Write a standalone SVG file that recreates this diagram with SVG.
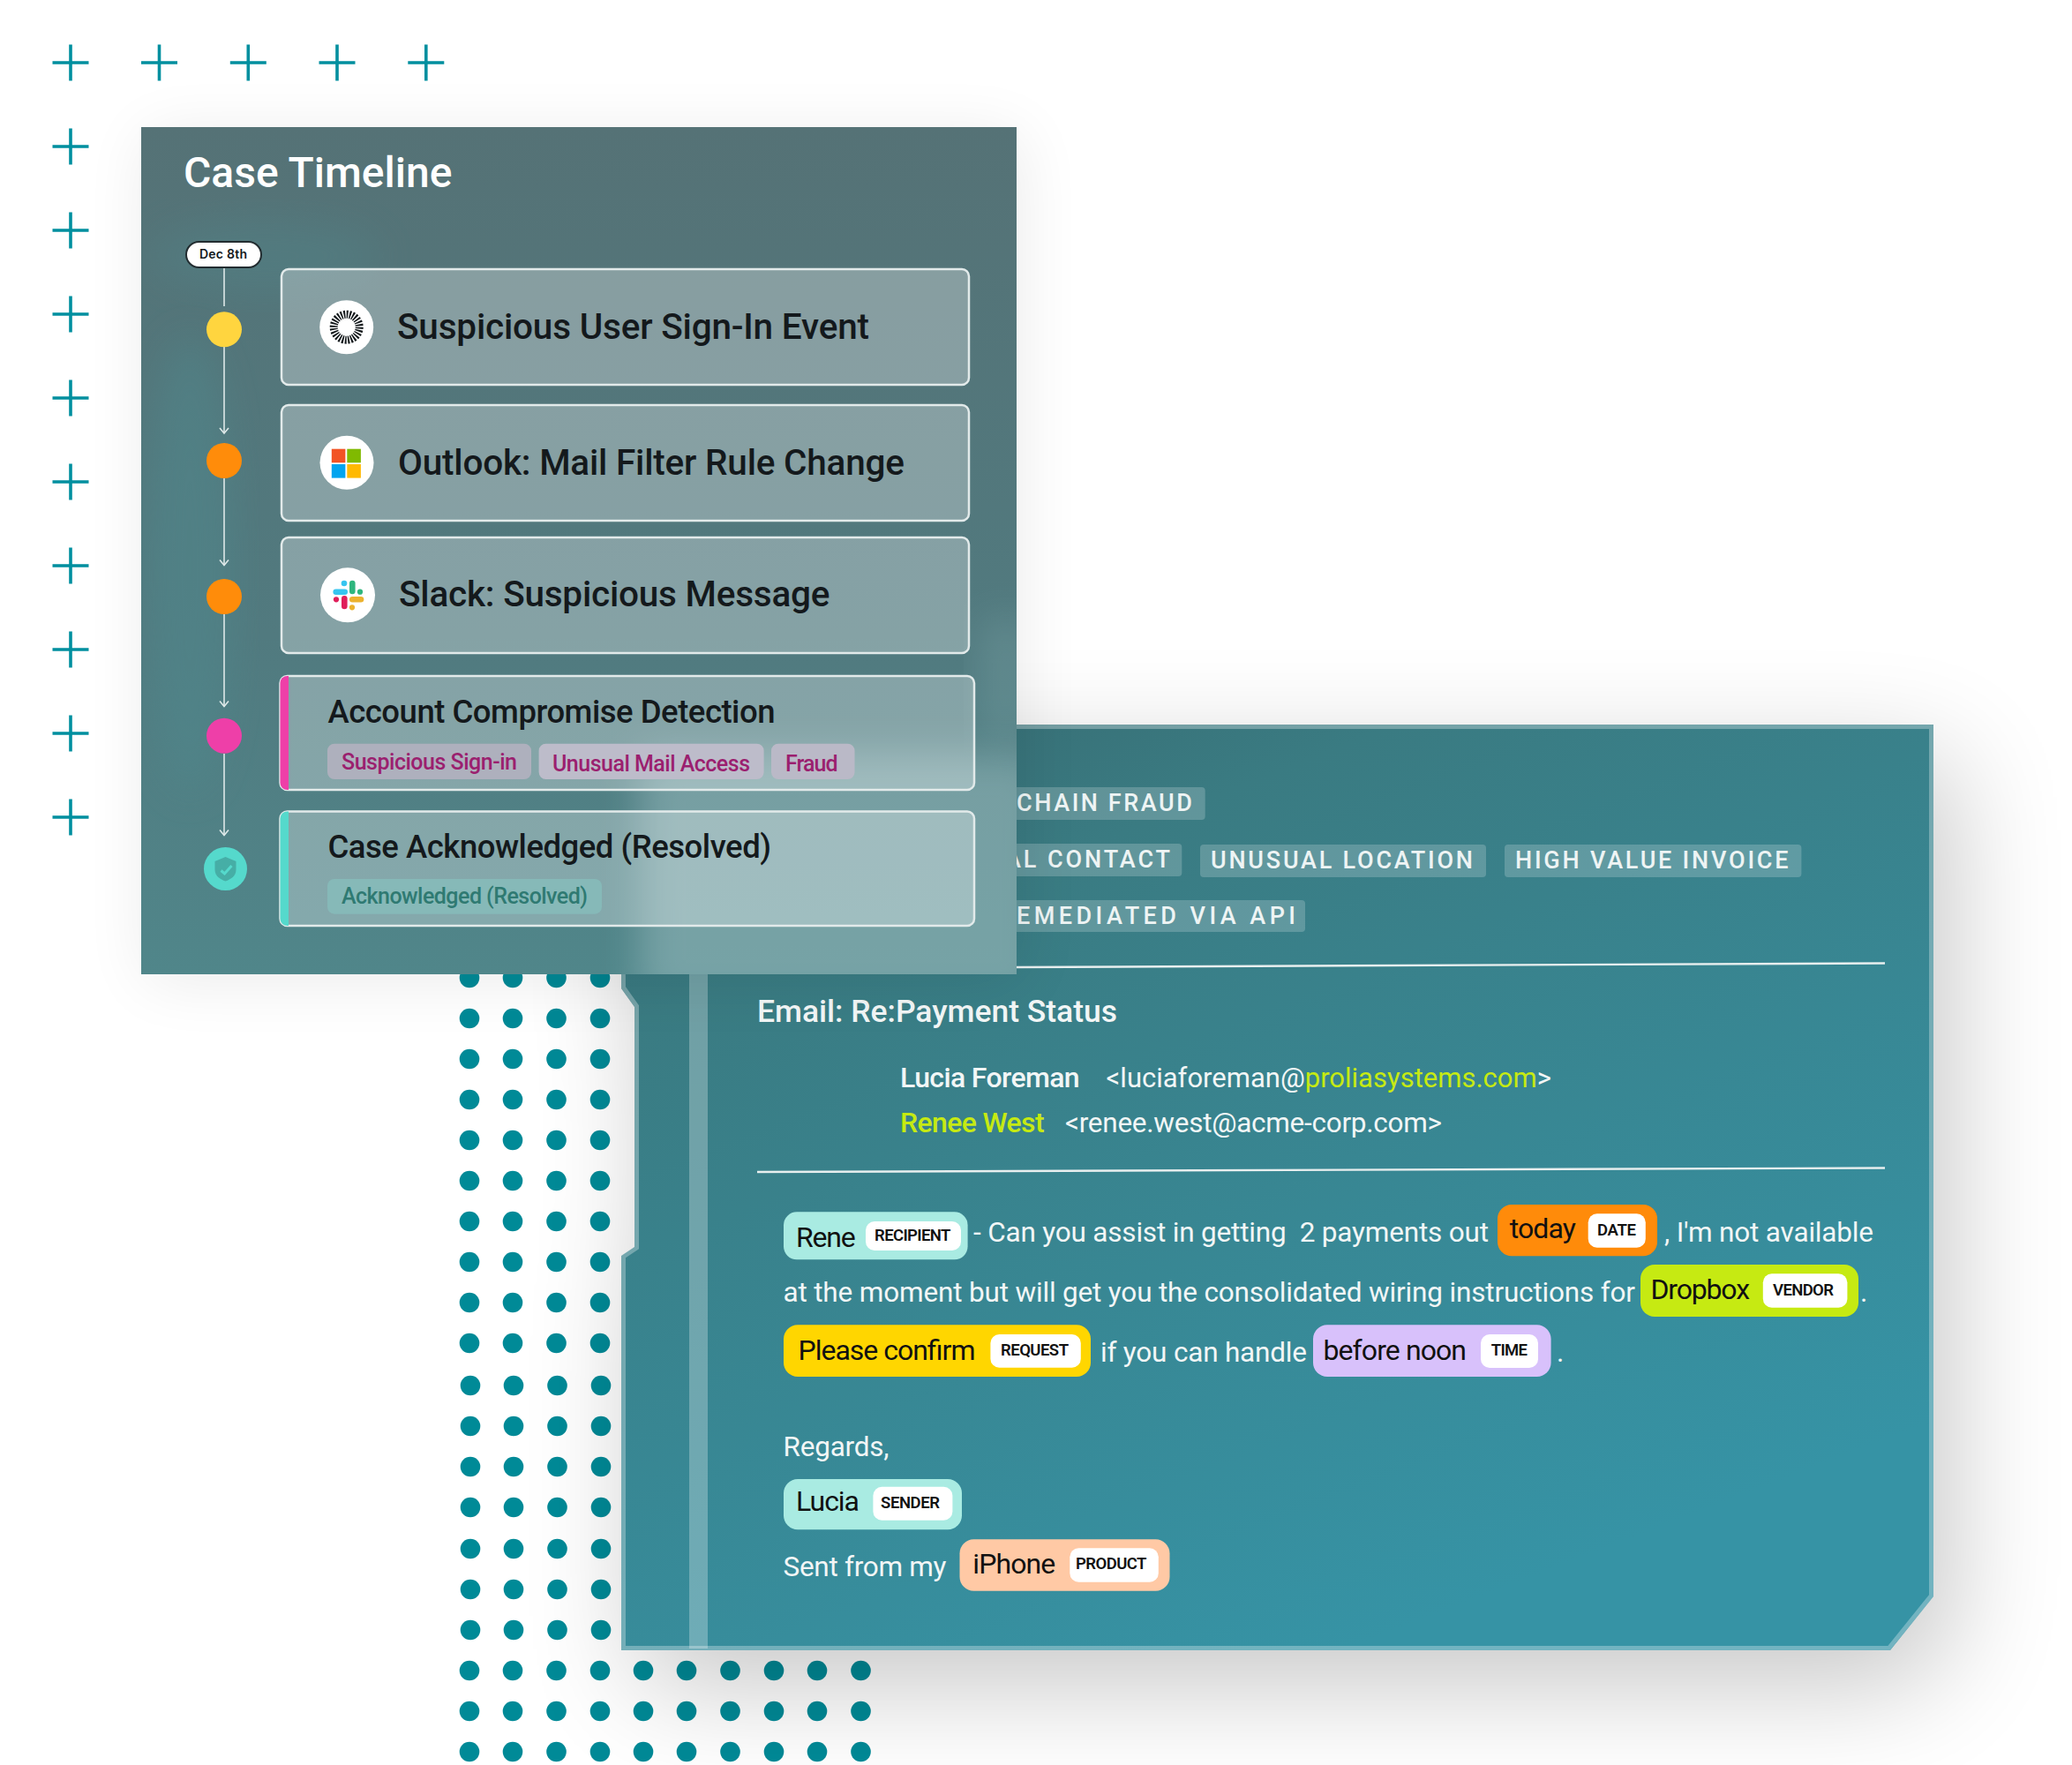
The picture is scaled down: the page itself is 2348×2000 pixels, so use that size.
<svg xmlns="http://www.w3.org/2000/svg" width="2348" height="2000" viewBox="0 0 2348 2000">
<style>
text{font-family:Roboto,"Liberation Sans",sans-serif}
.cross{stroke:#008f9f;stroke-width:3.6;fill:none}
.dot{fill:#008a97}
.card{fill:#fff;fill-opacity:.3;stroke:#e2eaea;stroke-width:2.5}
.ctitle{font-size:40.5px;font-weight:500;fill:#14191c}
.dtitle{font-size:36.5px;font-weight:500;fill:#14191c}
.ptag{font-size:25px;font-weight:500;fill:#9b1f6f}
.gtag{font-size:25px;font-weight:500;fill:#2f7a72}
.tl{stroke:#dfe9e9;stroke-width:1.6;fill:none}
.etag{fill:#fff;fill-opacity:.2}
.etxt{font-size:27px;font-weight:500;fill:#eef4f4;letter-spacing:3px}
.body{font-size:31.5px;fill:#f2f6f6}
.blk{font-size:32px;fill:#111}
.lbl{font-size:18.5px;font-weight:600;fill:#111}
.in{fill:#fff}
.rule{stroke:#e8efef;stroke-width:2.4}
</style>
<defs>
<linearGradient id="gEmail" x1="0" y1="0" x2="0.55" y2="1"><stop offset="0" stop-color="#37696f"/><stop offset=".25" stop-color="#3a7b82"/><stop offset="1" stop-color="#3693a5"/></linearGradient>
<linearGradient id="gPanel" x1="0" y1="0" x2="0" y2="1"><stop offset="0" stop-color="#557276"/><stop offset=".6" stop-color="#517a7f"/><stop offset="1" stop-color="#50868a"/></linearGradient>
<filter id="sEmail" x="-20%" y="-20%" width="140%" height="140%"><feGaussianBlur stdDeviation="64"/></filter>
<filter id="sPanel" x="-20%" y="-20%" width="140%" height="140%"><feGaussianBlur stdDeviation="36"/></filter>
<filter id="soft" x="-30%" y="-30%" width="160%" height="160%"><feGaussianBlur stdDeviation="22"/></filter>
<clipPath id="panelClip"><rect x="160" y="144" width="992" height="960"/></clipPath>
<marker id="arr" viewBox="0 0 10 12" refX="8.5" refY="6" markerWidth="10" markerHeight="12" markerUnits="userSpaceOnUse" orient="auto"><path d="M2.5 1L8.5 6L2.5 11" fill="none" stroke="#dfe9e9" stroke-width="1.6"/></marker>
<path id="plus" class="cross" d="M-20.5 0H20.5M0 -20.5V20.5"/>
<g id="row4"><circle class="dot" cx="0" cy="0" r="11.3"/><circle class="dot" cx="49" cy="0" r="11.3"/><circle class="dot" cx="98.5" cy="0" r="11.3"/><circle class="dot" cx="148" cy="0" r="11.3"/></g>
<g id="row10"><use href="#row4"/><use href="#row4" x="197"/><circle class="dot" cx="394" cy="0" r="11.3"/><circle class="dot" cx="443.5" cy="0" r="11.3"/></g>
</defs>

<rect width="2348" height="2000" fill="#fff"/>

<g id="crosses">
<use href="#plus" x="80" y="71"/><use href="#plus" x="180.5" y="71"/><use href="#plus" x="281.3" y="71"/><use href="#plus" x="382" y="71"/><use href="#plus" x="482.8" y="71"/>
<use href="#plus" x="80" y="166"/><use href="#plus" x="80" y="261"/><use href="#plus" x="80" y="356"/><use href="#plus" x="80" y="451"/><use href="#plus" x="80" y="546"/><use href="#plus" x="80" y="641"/><use href="#plus" x="80" y="736"/><use href="#plus" x="80" y="831"/><use href="#plus" x="80" y="926"/>
</g>

<g id="dots">
<use href="#row4" x="532" y="1108"/><use href="#row4" x="532" y="1154"/><use href="#row4" x="532" y="1200"/><use href="#row4" x="532" y="1246"/><use href="#row4" x="532" y="1292"/><use href="#row4" x="532" y="1338"/><use href="#row4" x="532" y="1384"/><use href="#row4" x="532" y="1430"/><use href="#row4" x="532" y="1476"/><use href="#row4" x="532" y="1522"/>
<use href="#row4" x="533" y="1570"/><use href="#row4" x="533" y="1616"/><use href="#row4" x="533" y="1662"/><use href="#row4" x="533" y="1708"/><use href="#row4" x="533" y="1755"/><use href="#row4" x="533" y="1801"/><use href="#row4" x="533" y="1847"/>
<use href="#row10" x="532" y="1893"/><use href="#row10" x="532" y="1939"/><use href="#row10" x="532" y="1985"/>
</g>

<g id="email-panel">
<path d="M724 861H2211V1849L2163 1910H724V1463L739 1443V1181L724 1160Z" fill="#000" opacity=".22" filter="url(#sEmail)"/>
<path d="M704 821H2191V1809L2142 1870H704V1423L719 1413V1141L704 1120Z" fill="url(#gEmail)"/>
<path d="M704 823.5H2188.5V1808L2140.5 1867.5H706.5V1424L721.5 1414V1140L706.5 1119Z" fill="none" stroke="#fff" stroke-opacity=".3" stroke-width="5"/>
<rect x="781" y="821" width="21" height="1047" fill="#fff" fill-opacity=".28"/>
<g id="tag-supply"><rect class="etag" x="1100" y="892" width="265.7" height="37" rx="4"/><text class="etxt" x="1152" y="919" textLength="202">CHAIN FRAUD</text></g>
<g id="tag-contact"><rect class="etag" x="1100" y="956" width="239.3" height="37" rx="4"/><text class="etxt" x="1139" y="983" textLength="190">AL CONTACT</text></g>
<g id="tag-location"><rect class="etag" x="1360" y="957" width="324" height="37" rx="4"/><text class="etxt" x="1372" y="983.6" textLength="300">UNUSUAL LOCATION</text></g>
<g id="tag-invoice"><rect class="etag" x="1705" y="957" width="336.4" height="37" rx="4"/><text class="etxt" x="1717" y="983.6" textLength="312.5">HIGH VALUE INVOICE</text></g>
<g id="tag-api"><rect class="etag" x="1100" y="1020" width="379" height="36" rx="4"/><text class="etxt" x="1152" y="1047" textLength="319">EMEDIATED VIA API</text></g>
<line class="rule" x1="1152" y1="1096" x2="2136" y2="1091.5"/>
<text x="858" y="1158" font-size="35.5" font-weight="500" fill="#f2f6f6" textLength="408">Email: Re:Payment Status</text>
<text x="1020" y="1232" font-size="32" font-weight="500" fill="#f2f6f6" textLength="203.6">Lucia Foreman</text>
<text x="1253.6" y="1232" font-size="31" fill="#f2f6f6">&lt;luciaforeman@<tspan fill="#c6ea12">proliasystems.com</tspan>&gt;</text>
<text x="1020" y="1283" font-size="32" font-weight="500" fill="#c6ea12" textLength="163.6">Renee West</text>
<text class="body" x="1207" y="1283" textLength="427">&lt;renee.west@acme-corp.com&gt;</text>
<line class="rule" x1="858" y1="1328" x2="2136" y2="1323.5"/>

<g id="ent-rene"><rect x="888" y="1373.3" width="208.6" height="54" rx="15" fill="#a9ebe2"/><text class="blk" x="902" y="1412.5" textLength="67.6">Rene</text><rect class="in" x="981" y="1384" width="108" height="33" rx="10"/><text class="lbl" x="991" y="1405.5" textLength="86.4">RECIPIENT</text></g>
<text class="body" x="1103" y="1406.5" textLength="584" xml:space="preserve">- Can you assist in getting  2 payments out</text>
<g id="ent-today"><rect x="1697" y="1365" width="181" height="58.3" rx="16" fill="#ff8b0a"/><text class="blk" x="1710.7" y="1403" textLength="75.3">today</text><rect class="in" x="1799.7" y="1375.3" width="65.1" height="38.4" rx="10"/><text class="lbl" x="1810" y="1399.5" textLength="44">DATE</text></g>
<text class="body" x="1886" y="1406.5" textLength="237">, I'm not available</text>
<text class="body" x="887.5" y="1474.5" textLength="965.5">at the moment but will get you the consolidated wiring instructions for</text>
<g id="ent-dropbox"><rect x="1859" y="1433" width="247" height="59" rx="16" fill="#c6ea12"/><text class="blk" x="1870.5" y="1471.7" textLength="112.5">Dropbox</text><rect class="in" x="1997.8" y="1443.3" width="95.6" height="38.4" rx="10"/><text class="lbl" x="2009" y="1467.5" textLength="69">VENDOR</text></g>
<text class="body" x="2108" y="1474.5">.</text>
<g id="ent-confirm"><rect x="888" y="1501.3" width="348" height="58.7" rx="16" fill="#ffd600"/><text class="blk" x="904.5" y="1540.7" textLength="201">Please confirm</text><rect class="in" x="1122.4" y="1512" width="102.4" height="37.7" rx="10"/><text class="lbl" x="1134" y="1535.5" textLength="77">REQUEST</text></g>
<text class="body" x="1247" y="1542.5" textLength="234">if you can handle</text>
<g id="ent-noon"><rect x="1488" y="1501.3" width="269.6" height="58.7" rx="16" fill="#d8c1fb"/><text class="blk" x="1499.5" y="1541" textLength="162.5">before noon</text><rect class="in" x="1678" y="1512" width="65" height="38" rx="10"/><text class="lbl" x="1689.7" y="1535.5" textLength="41.3">TIME</text></g>
<text class="body" x="1764" y="1542.5">.</text>
<text class="body" x="887.5" y="1650" textLength="120">Regards,</text>
<g id="ent-lucia"><rect x="888" y="1676" width="202" height="57.3" rx="16" fill="#a9ebe2"/><text class="blk" x="902" y="1711.5" textLength="72">Lucia</text><rect class="in" x="989.4" y="1684.7" width="90" height="38" rx="10"/><text class="lbl" x="998" y="1708.5" textLength="67">SENDER</text></g>
<text class="body" x="887.5" y="1786" textLength="185">Sent from my</text>
<g id="ent-iphone"><rect x="1087.5" y="1744.3" width="238" height="58.4" rx="16" fill="#ffc9a5"/><text class="blk" x="1102.3" y="1782.7" textLength="94">iPhone</text><rect class="in" x="1212.3" y="1754.3" width="100.5" height="38.4" rx="10"/><text class="lbl" x="1219" y="1778" textLength="80.4">PRODUCT</text></g>
</g>

<g id="timeline-panel">
<rect x="165" y="152" width="992" height="960" fill="#000" opacity=".08" filter="url(#sPanel)"/>
<rect x="160" y="144" width="992" height="960" fill="url(#gPanel)"/>
<g clip-path="url(#panelClip)">
<ellipse cx="215" cy="640" rx="50" ry="260" fill="#4f8a8f" opacity=".45" filter="url(#soft)"/>
<ellipse cx="300" cy="290" rx="130" ry="40" fill="#4f8a8f" opacity=".3" filter="url(#soft)"/>
<rect x="725" y="855" width="460" height="285" fill="#a8c8ca" opacity=".44" filter="url(#soft)"/>
<rect x="1110" y="700" width="60" height="140" fill="#8fb5b8" opacity=".25" filter="url(#soft)"/>
</g>
<text x="208" y="211.7" font-size="48" font-weight="500" fill="#fff" textLength="304.5">Case Timeline</text>
</g>

<g id="connectors">
<path class="tl" d="M254 303V347"/>
<path class="tl" d="M254 393V491" marker-end="url(#arr)"/>
<path class="tl" d="M254 542V640.5" marker-end="url(#arr)"/>
<path class="tl" d="M254 696V800.5" marker-end="url(#arr)"/>
<path class="tl" d="M254 854V946.5" marker-end="url(#arr)"/>
</g>

<g id="date-pill"><rect x="211" y="274" width="85" height="29" rx="14.5" fill="#fff" stroke="#222c30" stroke-width="2"/><text x="226" y="292.7" font-size="14" font-weight="600" fill="#14191c" style="font-family:Inter,'Liberation Sans',sans-serif" textLength="54">Dec 8th</text></g>
<g id="step-1"><circle cx="254" cy="373.3" r="20" fill="#ffd53f"/></g>
<g id="step-2"><circle cx="254" cy="522" r="20" fill="#ff8c0a"/></g>
<g id="step-3"><circle cx="254" cy="676" r="20" fill="#ff8c0a"/></g>
<g id="step-4"><circle cx="254" cy="833.7" r="20" fill="#ee3fa8"/></g>
<g id="step-5"><circle cx="255.5" cy="984.5" r="24.5" fill="#55d9cc"/><path d="M255.5 971L267.5 976V985.5C267.5 992.5 261.5 996.5 255.5 998.5C249.5 996.5 243.5 992.5 243.5 985.5V976Z" fill="#46aea6"/><path d="M250.5 986.5L254.5 990L262.5 981" fill="none" stroke="#55d9cc" stroke-width="3"/></g>

<g id="card-signin">
<rect class="card" x="319" y="305" width="779" height="131" rx="8"/>
<circle cx="392.7" cy="370.7" r="30.5" fill="#fff"/>
<circle cx="392.7" cy="370.7" r="14.5" fill="none" stroke="#14191c" stroke-width="9" pathLength="280" stroke-dasharray="5.6 4.4"/>
<text class="ctitle" x="450" y="384" textLength="535">Suspicious User Sign-In Event</text>
</g>
<g id="card-outlook">
<rect class="card" x="319" y="459" width="779" height="131" rx="8"/>
<circle cx="393" cy="524.3" r="30.5" fill="#fff"/>
<rect x="375.8" y="508.7" width="15.6" height="15.6" fill="#f25325"/><rect x="393.3" y="508.7" width="15.6" height="15.6" fill="#80ba01"/><rect x="375.8" y="526" width="15.6" height="15.6" fill="#02a4ef"/><rect x="393.3" y="526" width="15.6" height="15.6" fill="#ffb902"/>
<text class="ctitle" x="451" y="537.5" textLength="574">Outlook: Mail Filter Rule Change</text>
</g>
<g id="card-slack">
<rect class="card" x="319" y="609" width="779" height="131" rx="8"/>
<circle cx="394" cy="674.3" r="31" fill="#fff"/>
<g fill="none" stroke-width="6.6" stroke-linecap="round"><path d="M380.7 670.7H390.7" stroke="#36c5f0"/><path d="M399.3 661V670" stroke="#2eb67d"/><path d="M390.3 687V678.3" stroke="#e01e5a"/><path d="M399.3 679.3H409" stroke="#ecb22e"/></g>
<circle cx="390" cy="661" r="3.3" fill="#36c5f0"/><circle cx="408" cy="670.7" r="3.1" fill="#2eb67d"/><circle cx="381" cy="679.3" r="3.1" fill="#e01e5a"/><circle cx="399" cy="688.3" r="3.1" fill="#ecb22e"/>
<text class="ctitle" x="452" y="686.7" textLength="488.5">Slack: Suspicious Message</text>
</g>
<g id="card-detection">
<rect class="card" x="317.5" y="766" width="786.5" height="129" rx="8"/>
<path d="M327 766H325.5A8 8 0 0 0 317.5 774V887A8 8 0 0 0 325.5 895H327Z" fill="#ee3fa8"/>
<text class="dtitle" x="371.5" y="819" textLength="507">Account Compromise Detection</text>
<rect x="371" y="842.7" width="231" height="40.3" rx="8" fill="#aeb0bd"/><text class="ptag" x="387" y="872" textLength="199">Suspicious Sign-in</text>
<rect x="610.6" y="842.7" width="255" height="40.3" rx="8" fill="#bdbcca"/><text class="ptag" x="626" y="873.5" textLength="224">Unusual Mail Access</text>
<rect x="874" y="842.7" width="94.5" height="40.3" rx="8" fill="#bab9c7"/><text class="ptag" x="890" y="873.5" textLength="59.6">Fraud</text>
</g>
<g id="card-resolved">
<rect class="card" x="317.5" y="919.5" width="786.5" height="129.5" rx="8"/>
<path d="M327 919.5H325.5A8 8 0 0 0 317.5 927.5V1041A8 8 0 0 0 325.5 1049H327Z" fill="#55d9cc"/>
<text class="dtitle" x="371.5" y="972" textLength="502.5">Case Acknowledged (Resolved)</text>
<rect x="371" y="996" width="311" height="39.7" rx="8" fill="#86b9b8"/><text class="gtag" x="387" y="1024" textLength="279">Acknowledged (Resolved)</text>
</g>
</svg>
